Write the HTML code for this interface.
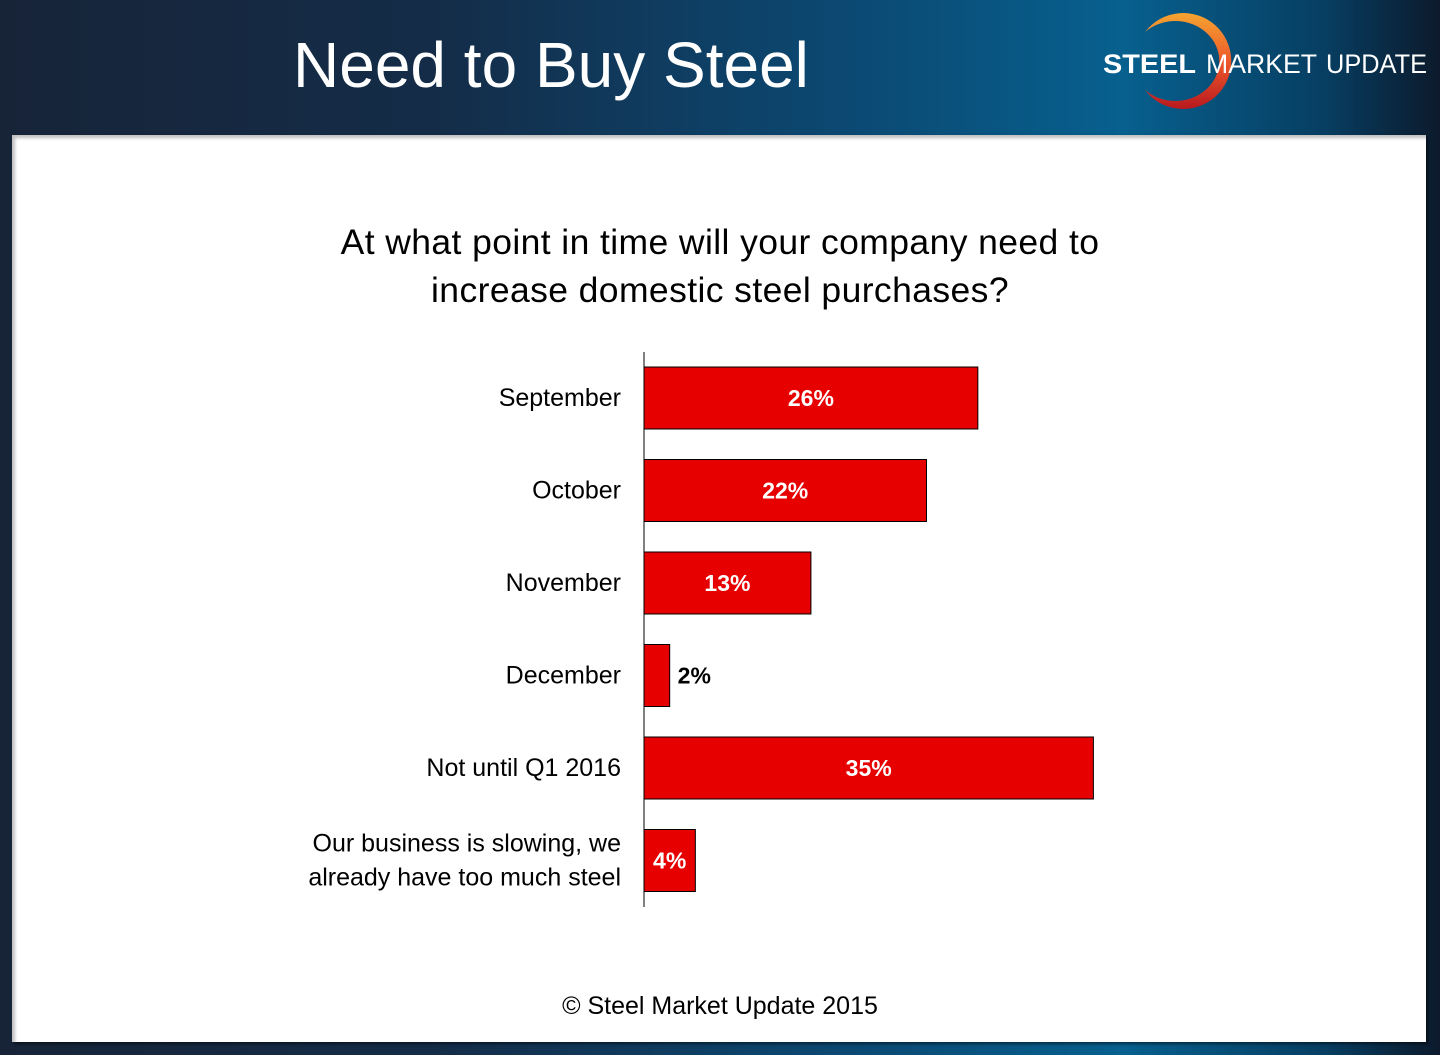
<!DOCTYPE html>
<html><head><meta charset="utf-8"><style>
body{margin:0;width:1440px;height:1055px;overflow:hidden;font-family:"Liberation Sans",sans-serif;
background:linear-gradient(90deg,#172438 0%,#142c48 30%,#0b4a74 60%,#07608e 78%,#073e62 92%,#0c1a2c 100%);position:relative}
#panel{position:absolute;left:12px;top:135px;width:1414px;height:907px;background:#fff;box-shadow:inset 3px 3px 3px rgba(0,0,0,.25),2px 2px 3px rgba(0,0,0,.5)}
.t{position:absolute;white-space:nowrap}
</style></head><body>
<div class="t" style="left:293px;top:28px;font-size:64px;color:#fff">Need to Buy Steel</div>
<svg style="position:absolute;left:1095px;top:10px" width="345" height="110">
<defs><linearGradient id="g" x1="0" y1="0" x2="0" y2="1"><stop offset="0" stop-color="#f6a431"/><stop offset=".5" stop-color="#ee5a2a"/><stop offset="1" stop-color="#b8191f"/></linearGradient></defs>
<path d="M50 22 A48 48 0 1 1 50 80 A44 40 0 1 0 50 22Z" fill="url(#g)"/>
<text x="8" y="63" font-size="27" font-weight="bold" fill="#fff" font-family="Liberation Sans" textLength="93" lengthAdjust="spacingAndGlyphs">STEEL</text>
<text x="111" y="63" font-size="27" fill="#fff" font-family="Liberation Sans" textLength="111" lengthAdjust="spacingAndGlyphs">MARKET</text>
<text x="231" y="63" font-size="27" fill="#fff" font-family="Liberation Sans" textLength="101" lengthAdjust="spacingAndGlyphs">UPDATE</text>
</svg>
<div id="panel"></div>
<div class="t" style="left:0;width:1440px;top:218px;text-align:center;font-size:35.5px;letter-spacing:0.4px;line-height:48px;color:#000">At what point in time will your company need to<br>increase domestic steel purchases?</div>
<svg id="chart" style="position:absolute;left:0;top:0" width="1440" height="1055"></svg>
<div class="t" style="left:0;width:1440px;top:992px;text-align:center;font-size:25px">© Steel Market Update 2015</div>
<script>
const categories=["September","October","November","December","Not until Q1 2016","Our business is slowing, we|already have too much steel"];
const values=[26,22,13,2,35,4];
const labels=["26%","22%","13%","2%","35%","4%"];
const svg=document.getElementById('chart');const NS="http://www.w3.org/2000/svg";
const x0=644,pxPer=12.84,yTop=352,band=92.5;
const xs=v=>x0+v*pxPer;const yc=i=>yTop+46+i*band;
function mk(t,a){const e=document.createElementNS(NS,t);for(const k in a)e.setAttribute(k,a[k]);svg.appendChild(e);return e;}
categories.forEach((c,i)=>{
 const r=mk('rect',{x:x0,y:yc(i)-31,width:xs(values[i])-x0,height:62,fill:'#e60000',stroke:'#000','stroke-width':1});
 
 
 const w=xs(values[i])-x0;const inside=w>40;
 const tx=mk('text',{x:inside?x0+w/2:xs(values[i])+8,y:yc(i)+8,'text-anchor':inside?'middle':'start','font-size':23,'font-weight':'bold',fill:inside?'#fff':'#000','font-family':'Liberation Sans'});
 tx.textContent=labels[i];
 
 
 const lines=c.split('|');
 lines.forEach((ln,j)=>{
  const t=mk('text',{x:621,y:yc(i)+8+(j-(lines.length-1)/2)*34,'text-anchor':'end','font-size':25,fill:'#000','font-family':'Liberation Sans'});
  t.textContent=ln;
  
  
 });
});
const ax=mk('line',{x1:x0,x2:x0,y1:yTop,y2:yTop+band*6,stroke:'#000','stroke-width':1});


</script>
</body></html>
